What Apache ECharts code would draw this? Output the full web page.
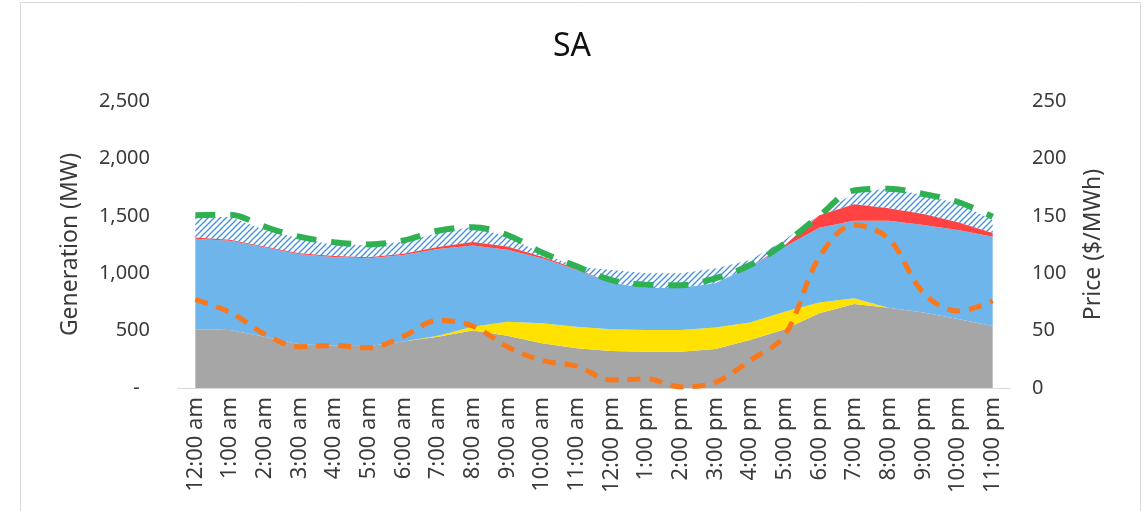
<!DOCTYPE html>
<html>
<head>
<meta charset="utf-8">
<script src="https://cdn.jsdelivr.net/npm/echarts@6/dist/echarts.min.js"></script>
<style>
  html, body { margin: 0; padding: 0; background: #fff; }
  #chart { width: 1144px; height: 511px; }
</style>
</head>
<body>
<div id="chart"></div>
<script>
// hourly categories
const hours = ['12:00 am', '1:00 am', '2:00 am', '3:00 am', '4:00 am', '5:00 am', '6:00 am', '7:00 am',
  '8:00 am', '9:00 am', '10:00 am', '11:00 am', '12:00 pm', '1:00 pm', '2:00 pm', '3:00 pm',
  '4:00 pm', '5:00 pm', '6:00 pm', '7:00 pm', '8:00 pm', '9:00 pm', '10:00 pm', '11:00 pm']

// generation stack (MW)
const grey = [512, 505, 446, 382, 368, 365, 404, 447, 500, 455, 390, 347, 322, 316, 316, 340, 418, 512, 652, 732, 700, 658, 600, 540]
const yellow = [0, 0, 0, 0, 0, 0, 0, 8, 34, 122, 175, 187, 190, 189, 189, 187, 152, 153, 93, 50, 0, 0, 0, 0]
const blue = [788, 777, 779, 784, 774, 765, 754, 755, 708, 628, 565, 496, 403, 365, 365, 385, 484, 566, 650, 674, 756, 762, 776, 778]
const red = [10, 10, 8, 8, 8, 8, 12, 18, 30, 28, 14, 8, 0, 0, 0, 0, 0, 12, 110, 145, 110, 95, 67, 32]
const hatched = [180, 198, 143, 130, 96, 108, 105, 119, 133, 85, 29, 19, 113, 129, 129, 130, 61, 46, 5, 95, 173, 166, 165, 113]

// demand line (MW) and price ($/MWh)
const demand = [1505, 1510, 1405, 1318, 1270, 1251, 1285, 1370, 1400, 1333, 1180, 1060, 940, 900, 895, 955, 1071, 1260, 1500, 1720, 1735, 1690, 1620, 1492]
const price = [77, 66, 47, 36, 37, 35, 45, 59, 54, 36, 24, 19, 7, 8, 1, 5, 24, 46, 114, 142, 130, 83, 67, 76]

const leftTicks = { min: 0, max: 2500, step: 500 }
const rightTicks = { min: 0, max: 250, step: 50 }

const FONT = 'Noto Sans'
const TXT = '#3a3a3a'

// diagonal hatch for the top band
function makeHatch() {
  const c = document.createElement('canvas')
  c.width = 6; c.height = 6
  const ctx = c.getContext('2d')
  ctx.strokeStyle = '#3d8fe4'
  ctx.lineWidth = 1.3
  ctx.beginPath()
  ctx.moveTo(0, 6); ctx.lineTo(6, 0)
  ctx.moveTo(-3, 3); ctx.lineTo(3, -3)
  ctx.moveTo(3, 9); ctx.lineTo(9, 3)
  ctx.stroke()
  return c
}

function areaSeries(name, data, color) {
  return {
    name: name,
    type: 'line',
    stack: 'gen',
    data: data,
    showSymbol: false,
    symbol: 'none',
    lineStyle: { width: 0 },
    areaStyle: { color: color, opacity: 1 },
    emphasis: { disabled: true },
    silent: true
  }
}

const chart = echarts.init(document.getElementById('chart'))

chart.setOption({
  animation: false,
  backgroundColor: '#fff',
  title: {
    text: 'SA',
    left: 'center',
    top: 26,
    textStyle: { fontFamily: FONT, fontSize: 32, fontWeight: 'normal', color: '#111' }
  },
  graphic: [{
    type: 'rect',
    shape: { x: 20.5, y: 2.5, width: 1120, height: 520 },
    style: { fill: 'none', stroke: '#d9d9d9', lineWidth: 1 },
    silent: true
  }],
  grid: { left: 178, right: 134, top: 101, bottom: 123 },
  xAxis: {
    type: 'category',
    data: hours,
    boundaryGap: true,
    axisLine: { lineStyle: { color: '#d9d9d9', width: 1 } },
    axisTick: { show: false },
    axisLabel: {
      interval: 0,
      rotate: 90,
      margin: 9,
      fontFamily: FONT,
      fontSize: 22,
      color: TXT
    }
  },
  yAxis: [{
    type: 'value',
    min: leftTicks.min,
    max: leftTicks.max,
    interval: leftTicks.step,
    name: 'Generation (MW)',
    nameLocation: 'middle',
    nameGap: 96,
    nameTextStyle: { fontFamily: FONT, fontSize: 23, color: TXT },
    axisLine: { show: false },
    axisTick: { show: false },
    splitLine: { show: false },
    axisLabel: {
      margin: 28,
      fontFamily: FONT,
      fontSize: 20,
      color: TXT,
      formatter: function (v) { return v === 0 ? '-  ' : v.toLocaleString('en-US') }
    }
  }, {
    type: 'value',
    position: 'right',
    min: rightTicks.min,
    max: rightTicks.max,
    interval: rightTicks.step,
    name: 'Price ($/MWh)',
    nameLocation: 'middle',
    nameGap: 72,
    nameTextStyle: { fontFamily: FONT, fontSize: 23, color: TXT },
    axisLine: { show: false },
    axisTick: { show: false },
    splitLine: { show: false },
    axisLabel: { margin: 22, fontFamily: FONT, fontSize: 20, color: TXT }
  }],
  series: [
    areaSeries('Grey', grey, '#a6a6a6'),
    areaSeries('Solar', yellow, '#ffe200'),
    areaSeries('Blue', blue, '#6db5eb'),
    areaSeries('Red', red, '#ff4343'),
    areaSeries('Hatched', hatched, { image: makeHatch(), repeat: 'repeat' }),
    {
      name: 'Demand',
      type: 'line',
      data: demand,
      smooth: 0.35,
      showSymbol: false,
      symbol: 'none',
      lineStyle: { color: '#2fb152', width: 6, type: [20, 15] },
      z: 5,
      silent: true
    },
    {
      name: 'Price',
      type: 'line',
      yAxisIndex: 1,
      data: price,
      smooth: 0.35,
      showSymbol: false,
      symbol: 'none',
      lineStyle: { color: '#fa781c', width: 5, type: [13, 9] },
      z: 6,
      silent: true
    }
  ]
})
</script>
</body>
</html>
